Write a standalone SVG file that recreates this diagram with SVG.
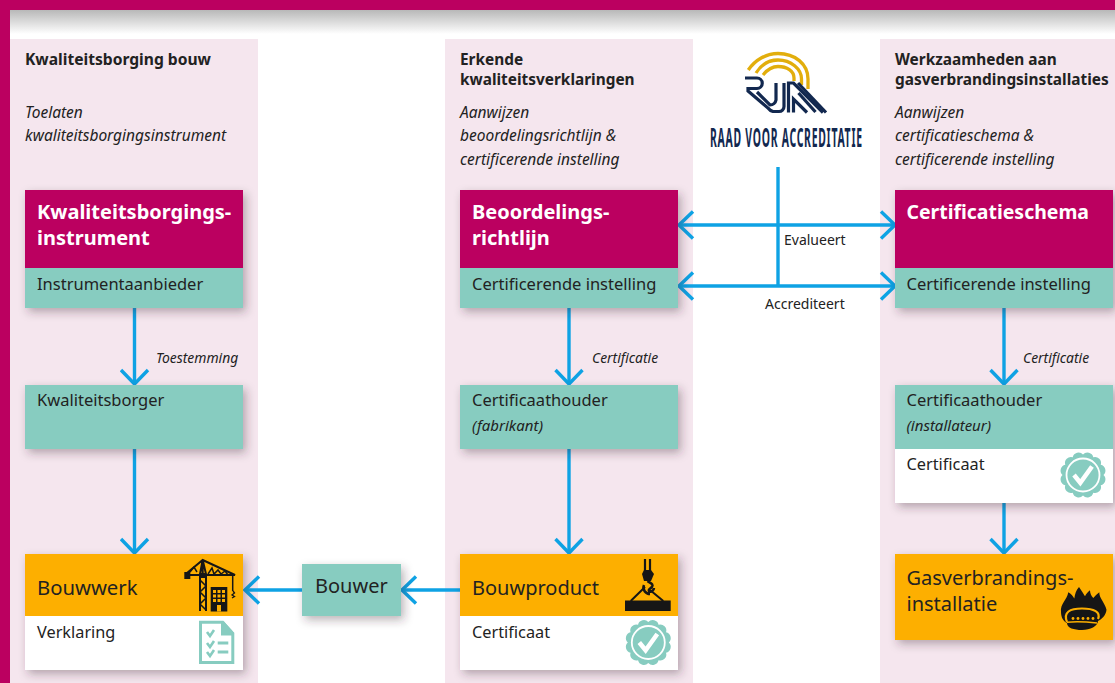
<svg xmlns="http://www.w3.org/2000/svg" width="1115" height="683" viewBox="0 0 1115 683">
<style>
text{font-family:"Noto Sans","Open Sans","Liberation Sans",sans-serif;fill:#222}
.h{font-size:15.4px;font-weight:700}
.i{font-size:15.5px;font-style:italic}
.t{font-size:20px;font-weight:700;fill:#fff}
.n{font-size:16.5px}
.o{font-size:20px}
.s{font-size:15px;font-style:italic}
.v{font-size:16.300px}
.c{font-size:13.9px;font-style:italic}
.l{font-size:14px}
.panel{fill:#f5e6ee}
.mag{fill:#bb0060}
.teal{fill:#87ccc0}
.org{fill:#fdaf00}
.wht{fill:#fff}
.conn{fill:none;stroke:#0ea2e4;stroke-width:3.4}
.blk{fill:#161616}
.line{fill:none;stroke:#161616}
</style>
<defs>
<linearGradient id="topShade" x1="0" y1="0" x2="0" y2="1"><stop offset="0" stop-color="#b8b8b8"/><stop offset="1" stop-color="#fff"/></linearGradient>
<filter id="sh" x="-20%" y="-20%" width="150%" height="150%"><feDropShadow dx="3" dy="4" stdDeviation="5" flood-color="#3a2a35" flood-opacity="0.35"/></filter>
<marker id="chev" viewBox="0 0 20 30" refX="17.500" refY="15" markerWidth="20" markerHeight="30" markerUnits="userSpaceOnUse" orient="auto-start-reverse"><path d="M3.500 1.500L17.500 15L3.500 28.500" fill="none" stroke="#0ea2e4" stroke-width="3.400"/></marker>
<g id="seal">
<path class="teal" d="M0-20.500A6 6 0 0 1 10.250-17.750A6 6 0 0 1 17.750-10.250A6 6 0 0 1 20.500 0A6 6 0 0 1 17.750 10.250A6 6 0 0 1 10.250 17.750A6 6 0 0 1 0 20.500A6 6 0 0 1-10.250 17.750A6 6 0 0 1-17.750 10.250A6 6 0 0 1-20.500 0A6 6 0 0 1-17.750-10.250A6 6 0 0 1-10.250-17.750A6 6 0 0 1 0-20.500Z"/>
<circle r="16.500" fill="none" stroke="#fff" stroke-width="1.800"/>
<path d="M-9 0L-2.700 7.700 9-8.500" fill="none" stroke="#fff" stroke-width="4.500"/>
</g>
</defs>
<rect width="1115" height="683" fill="#fff"/>
<rect x="10" y="10" width="1105" height="24" fill="url(#topShade)"/>
<rect x="10" y="39" width="248" height="644" class="panel"/>
<rect x="445" y="39" width="248" height="644" class="panel"/>
<rect x="880" y="39" width="235" height="644" class="panel"/>
<rect width="1115" height="10" class="mag"/>
<rect width="10" height="683" class="mag"/>

<g id="intro-1"><text x="25" y="65" class="h" textLength="186" lengthAdjust="spacingAndGlyphs">Kwaliteitsborging bouw</text><text x="25" y="118" class="i">Toelaten</text><text x="25" y="141" class="i">kwaliteitsborgingsinstrument</text></g>
<g id="intro-2"><text x="460" y="65" class="h">Erkende</text><text x="460" y="85" class="h">kwaliteitsverklaringen</text><text x="460" y="118" class="i">Aanwijzen</text><text x="460" y="141" class="i">beoordelingsrichtlijn &amp;</text><text x="460" y="165" class="i">certificerende instelling</text></g>
<g id="intro-3"><text x="895" y="65" class="h">Werkzaamheden aan</text><text x="895" y="85" class="h">gasverbrandingsinstallaties</text><text x="895" y="118" class="i">Aanwijzen</text><text x="895" y="141" class="i">certificatieschema &amp;</text><text x="895" y="165" class="i">certificerende instelling</text></g>

<g id="logo">
<g fill="none" stroke="#e2ae0c" stroke-width="3.300"><path d="M748.300 70C755 60 766 53.500 778 53.500C795 53.500 808 64 808 79V89"/><path d="M756 73C761 65 769 60 778 60C791 60 801.500 69 801.500 79V85"/><path d="M763 75C767 70 772 66.500 778 66.500C787 66.500 794 71 794 78V81"/></g>
<g fill="none" stroke="#12284f" stroke-width="3.200"><path d="M745 78H757A5 5 0 0 1 757 88.500H748V91L768 108A9 9 0 0 0 773 111.500H779A5 5 0 0 0 784 106.500V83"/><path d="M776 83V100A6 6 0 0 1 770 105L757 92"/><path d="M788.500 112.500V83H793.500L823 112.500"/><path d="M793.500 112.500V99L807 112.500"/><path d="M799 83L827 112.500" transform="translate(-1 0)"/><path d="M798.500 93L815.500 112"/></g>
<text transform="translate(710 147) scale(.4 1)" style="font-size:26px;font-weight:700;fill:#12284f" textLength="380" lengthAdjust="spacing">RAAD VOOR ACCREDITATIE</text>
</g>

<g id="connectors">
<path class="conn" d="M134.500 308V384" marker-end="url(#chev)"/>
<path class="conn" d="M134.500 449V553" marker-end="url(#chev)"/>
<path class="conn" d="M569 308V384" marker-end="url(#chev)"/>
<path class="conn" d="M569 449V553" marker-end="url(#chev)"/>
<path class="conn" d="M1004 308V384" marker-end="url(#chev)"/>
<path class="conn" d="M1004 503V553" marker-end="url(#chev)"/>
<path class="conn" d="M460 590H402" marker-end="url(#chev)"/>
<path class="conn" d="M302 590H245" marker-end="url(#chev)"/>
<path class="conn" d="M778 167V286"/>
<path class="conn" d="M679 225H895" marker-start="url(#chev)" marker-end="url(#chev)"/>
<path class="conn" d="M679 286H895" marker-start="url(#chev)" marker-end="url(#chev)"/>
</g>

<g id="labels">
<text x="156" y="363" class="c">Toestemming</text>
<text x="592" y="363" class="c">Certificatie</text>
<text x="1023" y="363" class="c">Certificatie</text>
<text x="784" y="245" class="l">Evalueert</text>
<text x="765" y="309" class="l">Accrediteert</text>
</g>

<g id="kwaliteitsborgingsinstrument"><g filter="url(#sh)"><rect x="25" y="190" width="218" height="118" class="teal"/></g><rect x="25" y="190" width="218" height="78" class="mag"/><text x="37" y="218.500" class="t">Kwaliteitsborgings-</text><text x="37" y="245" class="t">instrument</text><text x="37" y="290" class="n">Instrumentaanbieder</text></g>
<g id="beoordelingsrichtlijn"><g filter="url(#sh)"><rect x="460" y="190" width="218" height="118" class="teal"/></g><rect x="460" y="190" width="218" height="78" class="mag"/><text x="472" y="218.500" class="t">Beoordelings-</text><text x="472" y="245" class="t">richtlijn</text><text x="472" y="290" class="n">Certificerende instelling</text></g>
<g id="certificatieschema"><g filter="url(#sh)"><rect x="895" y="190" width="218" height="118" class="teal"/></g><rect x="895" y="190" width="218" height="78" class="mag"/><text x="906.500" y="218.500" class="t" textLength="182.500" lengthAdjust="spacingAndGlyphs">Certificatieschema</text><text x="906.500" y="290" class="n">Certificerende instelling</text></g>

<g id="kwaliteitsborger"><rect x="25" y="385" width="218" height="64" class="teal" filter="url(#sh)"/><text x="37" y="406" class="n">Kwaliteitsborger</text></g>
<g id="certificaathouder-fabrikant"><rect x="460" y="385" width="218" height="64" class="teal" filter="url(#sh)"/><text x="472" y="406" class="n">Certificaathouder</text><text x="472" y="431" class="s">(fabrikant)</text></g>
<g id="certificaathouder-installateur"><g filter="url(#sh)"><rect x="895" y="385" width="218" height="118" class="wht"/></g><rect x="895" y="385" width="218" height="64" class="teal"/><text x="906.500" y="406" class="n">Certificaathouder</text><text x="906.500" y="431" class="s">(installateur)</text><text x="906.500" y="470" class="v">Certificaat</text><use href="#seal" x="1083" y="475"/></g>

<g id="bouwwerk"><g filter="url(#sh)"><rect x="25" y="554" width="218" height="116" class="wht"/></g><rect x="25" y="554" width="218" height="62" class="org"/><text x="37" y="595" class="o" style="font-size:20.300px">Bouwwerk</text><text x="37" y="638" class="v">Verklaring</text>
<g id="crane"><path class="line" stroke-width="2" d="M200 611V574M206 611V574M187 573 202.700 560 235 575H186M202.700 560V574M202.700 560 206 574 200 574Z"/><path class="line" stroke-width="1.500" d="M200 580 206 586 200 592 206 598 200 604 206 610M208 574 212 568 214 574 218 570 221 574 225 571 228 575M190 572 194 567 197 572"/><path class="line" stroke-width="1.500" d="M232.700 575V591"/><path class="line" stroke-width="1.300" d="M233 591 234.500 593 232 595 234.500 596.500 232 598"/><rect x="184.300" y="572" width="6" height="7" class="blk"/><rect x="200" y="573" width="6" height="5" class="blk"/><rect x="210.700" y="587" width="16.600" height="24.500" class="blk"/><g fill="#fdaf00"><rect x="213" y="590" width="3" height="3"/><rect x="217.500" y="590" width="3" height="3"/><rect x="222" y="590" width="3" height="3"/><rect x="213" y="594.500" width="3" height="3"/><rect x="217.500" y="594.500" width="3" height="3"/><rect x="222" y="594.500" width="3" height="3"/><rect x="213" y="599" width="3" height="3"/><rect x="217.500" y="599" width="3" height="3"/><rect x="222" y="599" width="3" height="3"/><rect x="217" y="605" width="4" height="6.500"/></g></g>
<g id="checklist"><path d="M199 620.700H223.300L234.300 633V664H199Z" class="teal"/><path d="M202 623.700H221V635.500H231.300V661H202Z" fill="#fff"/><path d="M223.300 620.700V633H234.300Z" class="teal"/><g fill="none" stroke="#87ccc0" stroke-width="2.600"><path d="M207 632 210 636 214 630M207 643 210 647 214 641M207 652 210 656 214 650"/><path d="M217.700 643H228.300M217.700 652H228.300" stroke-width="3"/></g></g></g>

<g id="bouwer"><rect x="302" y="564" width="99" height="52" class="teal" filter="url(#sh)"/><text x="315" y="593" class="o">Bouwer</text></g>

<g id="bouwproduct"><g filter="url(#sh)"><rect x="460" y="554" width="218" height="116" class="wht"/></g><rect x="460" y="554" width="218" height="62" class="org"/><text x="472" y="595" class="o">Bouwproduct</text><text x="472" y="638" class="v">Certificaat</text>
<g id="hook"><path class="line" stroke-width="2.200" d="M645 559V572M650 559V572"/><path class="blk" d="M644 570H651L654 574 651 581H644L642 574Z"/><path class="line" stroke-width="2.500" d="M647.500 581C650 583 654 584 652 587 650 589 648 589 649 591 651 593 654 590 654 588M644 585C642 590 646 594 650 594"/><path class="line" stroke-width="2" d="M630.700 601 645 587M650 590 663.300 601"/><rect x="625" y="600.500" width="45.700" height="10.500" class="blk"/></g>
<use href="#seal" x="648.300" y="642.500"/></g>

<g id="gasverbrandingsinstallatie"><rect x="895" y="554" width="218" height="86" class="org" filter="url(#sh)"/><text x="906.500" y="585" class="o">Gasverbrandings-</text><text x="906.500" y="611" class="o">installatie</text>
<g id="burner"><path class="blk" d="M1061 612C1060 604 1067 600 1068.300 592.300 1071 594 1073 596 1074.300 598.500 1075 594 1076 590 1079 587 1081 590 1083 593 1085 596.300 1086 594 1088 592 1090 590.300 1090 593 1091 596 1093.300 598 1095 596 1097 594 1099.300 592.300 1099 598 1105 603 1106.500 609.700 1106 615 1102 619 1098 621 1098 626 1090 630 1082 630 1074 630 1067 628 1067 623 1063 621 1061 617 1061 612Z"/><path d="M1067 622C1063 612 1070 608.500 1082 608.500 1094 608.500 1101 612 1098 619" fill="none" stroke="#fdaf00" stroke-width="2.200"/><path d="M1067 622.300C1078 621 1088 622 1097 623" fill="none" stroke="#fdaf00" stroke-width="1.500"/><g fill="#fdaf00"><circle cx="1073" cy="618.500" r="1.400"/><circle cx="1078" cy="618.500" r="1.400"/><circle cx="1083" cy="618.500" r="1.400"/><circle cx="1088" cy="618.500" r="1.400"/><circle cx="1093" cy="618.500" r="1.400"/></g></g></g>
</svg>
